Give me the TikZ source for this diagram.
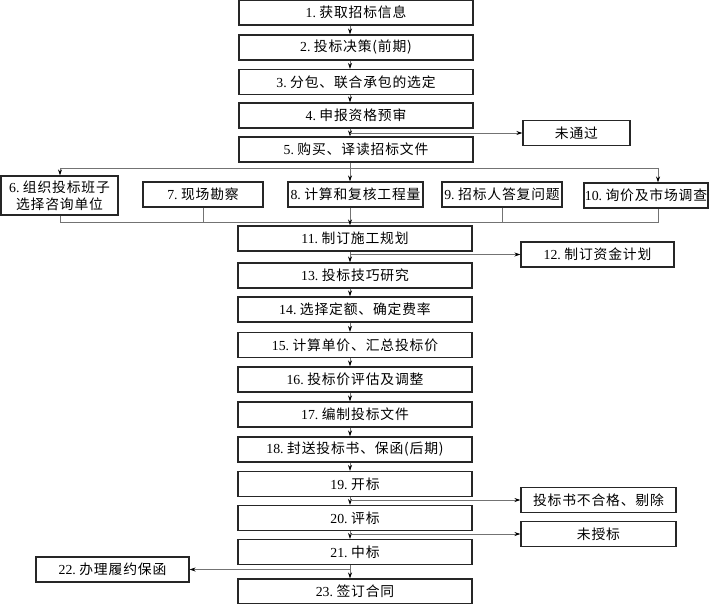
\documentclass[tikz,border=0pt]{standalone}
\usepackage{fontspec}
\setmainfont{Liberation Serif}
\newfontfamily\cjk[LetterSpace=6]{Noto Sans CJK SC}
\usetikzlibrary{arrows.meta,calc}
\newcommand\mylbl[2]{#1.\ {\cjk #2}}
\begin{document}
\begin{tikzpicture}[x=1pt,y=-1pt,
  box/.style={draw=black!85, line width=1.1pt, inner sep=0pt, minimum height=25pt,
    font=\fontsize{13.8}{17}\selectfont, align=center, fill=white},
  mbox/.style={box, minimum width=234pt},
  conn/.style={draw=black!55, line width=0.7pt},
  arr/.style={conn, -{Stealth[length=6pt,width=4pt,black]}}
]
\useasboundingbox (0,0) rectangle (714,604);
\coordinate (mx) at (350,0);
% main column
\node[mbox] (n1) at (356,12.5) {\mylbl{1}{获取招标信息}};
\node[mbox] (n2) at (356,47.5) {\mylbl{2}{投标决策(前期)}};
\node[mbox] (n3) at (356,82) {\mylbl{3}{分包、联合承包的选定}};
\node[mbox] (n4) at (356,115.5) {\mylbl{4}{申报资格预审}};
\node[mbox] (n5) at (356,149.5) {\mylbl{5}{购买、译读招标文件}};
\node[mbox] (n11) at (355,238.5) {\mylbl{11}{制订施工规划}};
\node[mbox] (n13) at (355,275.5) {\mylbl{13}{投标技巧研究}};
\node[mbox] (n14) at (355,309.5) {\mylbl{14}{选择定额、确定费率}};
\node[mbox] (n15) at (355,345) {\mylbl{15}{计算单价、汇总投标价}};
\node[mbox] (n16) at (355,379.5) {\mylbl{16}{投标价评估及调整}};
\node[mbox] (n17) at (355,414.5) {\mylbl{17}{编制投标文件}};
\node[mbox] (n18) at (355,449.5) {\mylbl{18}{封送投标书、保函(后期)}};
\node[mbox] (n19) at (355,484) {\mylbl{19}{开标}};
\node[mbox] (n20) at (355,518) {\mylbl{20}{评标}};
\node[mbox] (n21) at (355,552) {\mylbl{21}{中标}};
\node[mbox] (n23) at (355,591.5) {\mylbl{23}{签订合同}};
% side boxes
\node[box, minimum width=107pt] (nf) at (576.5,133) {{\cjk 未通过}};
\node[box, minimum width=153pt] (n12) at (597.5,254.5) {\mylbl{12}{制订资金计划}};
\node[box, minimum width=155pt] (nbad) at (598.5,500) {{\cjk 投标书不合格、剔除}};
\node[box, minimum width=155pt] (nno) at (598.5,534) {{\cjk 未授标}};
\node[box, minimum width=153pt] (n22) at (112.5,569.5) {\mylbl{22}{办理履约保函}};
% row of parallel tasks
\node[box, minimum width=117pt, minimum height=39pt] (n6) at (59.5,195.5) {\mylbl{6}{组织投标班子}\\{\cjk 选择咨询单位}};
\node[box, minimum width=120pt] (n7) at (203,194.5) {\mylbl{7}{现场勘察}};
\node[box, minimum width=135pt] (n8) at (355.5,194.5) {\mylbl{8}{计算和复核工程量}};
\node[box, minimum width=120pt] (n9) at (502,194.5) {\mylbl{9}{招标人答复问题}};
\node[box, minimum width=124pt] (n10) at (646,195.5) {\mylbl{10}{询价及市场调查}};
% main arrows
\draw[arr] (n1.south -| mx) -- (n2.north -| mx);
\draw[arr] (n2.south -| mx) -- (n3.north -| mx);
\draw[arr] (n3.south -| mx) -- (n4.north -| mx);
\draw[arr] (n4.south -| mx) -- (n5.north -| mx);
\draw[arr] (n11.south -| mx) -- (n13.north -| mx);
\draw[arr] (n13.south -| mx) -- (n14.north -| mx);
\draw[arr] (n14.south -| mx) -- (n15.north -| mx);
\draw[arr] (n15.south -| mx) -- (n16.north -| mx);
\draw[arr] (n16.south -| mx) -- (n17.north -| mx);
\draw[arr] (n17.south -| mx) -- (n18.north -| mx);
\draw[arr] (n18.south -| mx) -- (n19.north -| mx);
\draw[arr] (n19.south -| mx) -- (n20.north -| mx);
\draw[arr] (n20.south -| mx) -- (n21.north -| mx);
\draw[arr] (n21.south -| mx) -- (n23.north -| mx);
% side arrows
\draw[arr] (mx |- nf.west) -- (nf.west);
\draw[arr] (mx |- n12.west) -- (n12.west);
\draw[arr] (mx |- nbad.west) -- (nbad.west);
\draw[arr] (mx |- nno.west) -- (nno.west);
\draw[arr] (mx |- n22.east) -- (n22.east);
% branching
\coordinate (b6) at (60,168);
\coordinate (b10) at (658,168);
\coordinate (c6) at (60,222);
\coordinate (c10) at (658,222);
\draw[conn] (n5.south -| mx) -- (mx |- b6);
\draw[conn] (b6) -- (b10);
\draw[arr] (b6) -- (b6 |- n6.north);
\draw[arr] (mx |- b6) -- (mx |- n8.north);
\draw[arr] (b10) -- (b10 |- n10.north);
\draw[conn] (c6 |- n6.south) -- (c6) -- (c10) -- (c10 |- n10.south);
\draw[conn] (n7.south) -- (n7.south |- c6);
\draw[conn] (n9.south) -- (n9.south |- c6);
\draw[conn] (mx |- n8.south) -- (mx |- c6);
\draw[arr] (mx |- c6) -- (mx |- n11.north);
\end{tikzpicture}
\end{document}
